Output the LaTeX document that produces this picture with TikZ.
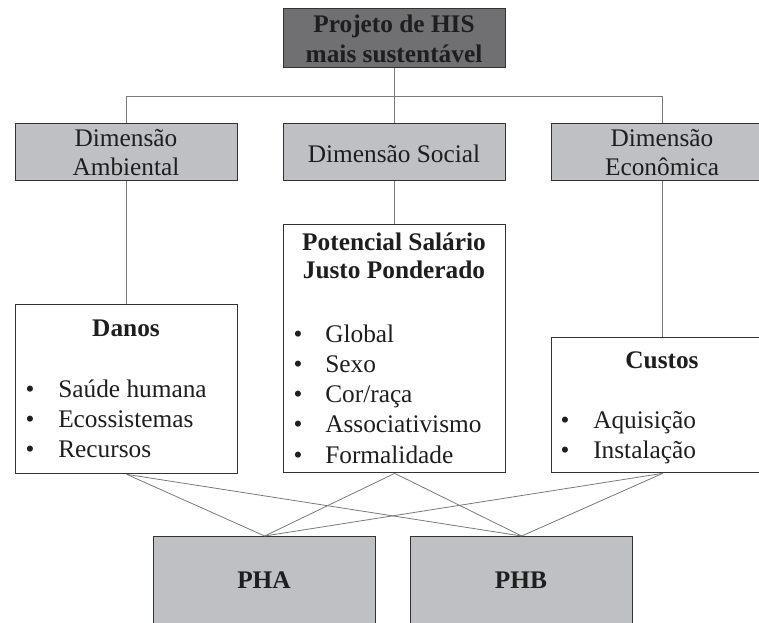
\documentclass[tikz,border=0pt]{standalone}
\usepackage{fontspec}
\setmainfont{Liberation Serif}
\newcommand\pxu{0.75pt}
\definecolor{darkfill}{HTML}{707073}
\definecolor{lightfill}{HTML}{BFC0C3}
\definecolor{edgecol}{HTML}{333333}
\definecolor{wirecol}{HTML}{7A7A7A}
\definecolor{inkcol}{HTML}{1E1E1E}
\tikzset{
  box/.style={draw=edgecol, line width=1pt, rectangle, inner sep=0pt, anchor=north west, minimum width=222*\pxu},
  lightbox/.style={box, fill=lightfill},
  darkbox/.style={box, fill=darkfill},
  whitebox/.style={box, fill=white},
  txt/.style={inner sep=0pt, text=inkcol, font=\fontsize{19pt}{22pt}\selectfont},
  ctxt/.style={txt, anchor=base},
  ltxt/.style={txt, anchor=base west},
  btxt/.style={ctxt, font=\fontsize{19pt}{22pt}\selectfont\bfseries},
  wire/.style={draw=wirecol, line width=0.6pt},
}
\begin{document}
\begin{tikzpicture}[x=0.75pt, y=-0.75pt]
\path[use as bounding box] (0,0) rectangle (759,622);
\begin{scope}
\clip (0,0) rectangle (759,622);

% boxes
\node[darkbox, minimum height=59*\pxu] (top) at (283,8) {};
\node[lightbox, minimum height=57*\pxu] (amb) at (15,123) {};
\node[lightbox, minimum height=57*\pxu] (soc) at (283,123) {};
\node[lightbox, minimum height=57*\pxu] (eco) at (551,123) {};
\node[whitebox, minimum height=169*\pxu] (danos) at (15,304) {};
\node[whitebox, minimum height=248*\pxu] (pot) at (283,224) {};
\node[whitebox, minimum height=135*\pxu] (custos) at (551,337) {};
\node[lightbox, minimum height=90*\pxu] (pha) at (153,536) {};
\node[lightbox, minimum height=90*\pxu] (phb) at (410,536) {};

% tree connectors
\coordinate (barL) at (amb.north |- 0,96);
\coordinate (barR) at (eco.north |- 0,96);
\coordinate (barM) at (top.south |- 0,96);
\draw[wire] (barL) -- (barR);
\draw[wire] (top.south) -- (barM);
\draw[wire] (barL) -- (amb.north);
\draw[wire] (barM) -- (soc.north);
\draw[wire] (barR) -- (eco.north);
\draw[wire] (amb.south) -- (danos.north);
\draw[wire] (soc.south) -- (pot.north);
\draw[wire] (eco.south) -- (custos.north);

% crossing connectors
\foreach \s in {danos, pot, custos}{
  \draw[wire] (\s.south) -- (pha.north);
  \draw[wire] (\s.south) -- (phb.north);
}

% texts
\node[btxt] (t1) at (394,32) {Projeto de HIS};
\node[btxt] (t2) at (394,62) {mais sustentável};

\node[ctxt] (amb1) at (126,146) {Dimensão};
\node[ctxt] (amb2) at (126,175) {Ambiental};
\node[ctxt] (soc1) at (394,162) {Dimensão Social};
\node[ctxt] (eco1) at (662,146) {Dimensão};
\node[ctxt] (eco2) at (662,175) {Econômica};

\node[btxt] (danosT) at (126,336) {Danos};
\foreach \t [count=\i] in {Saúde humana, Ecossistemas, Recursos}{
  \node[ctxt] (db\i) at (30,{397+30*(\i-1)}) {\textbullet};
  \node[ltxt] (dt\i) at (58,{397+30*(\i-1)}) {\t};
}

\node[btxt] (pot1) at (394,250) {Potencial Salário};
\node[btxt] (pot2) at (394,278) {Justo Ponderado};
\foreach \t [count=\i] in {Global, Sexo, Cor/raça, Associativismo, Formalidade}{
  \node[ctxt] (pb\i) at (298,{342+30.25*(\i-1)}) {\textbullet};
  \node[ltxt] (pt\i) at (325,{342+30.25*(\i-1)}) {\t};
}

\node[btxt] (custosT) at (662,368) {Custos};
\foreach \t [count=\i] in {Aquisição, Instalação}{
  \node[ctxt] (cb\i) at (565,{428+30*(\i-1)}) {\textbullet};
  \node[ltxt] (ct\i) at (593,{428+30*(\i-1)}) {\t};
}

\node[btxt] (phaT) at (264,588) {PHA};
\node[btxt] (phbT) at (521,588) {PHB};
\end{scope}
\end{tikzpicture}
\end{document}
